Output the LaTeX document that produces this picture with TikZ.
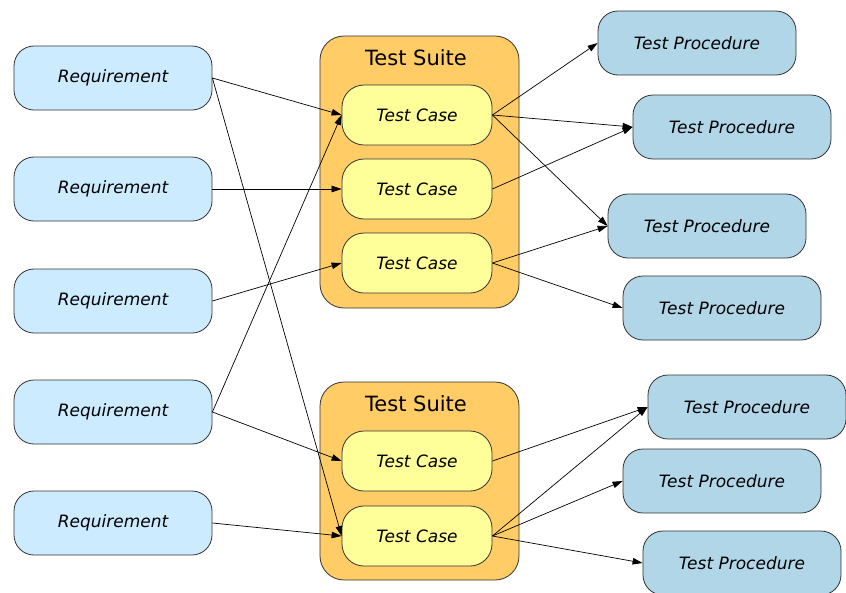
\documentclass[tikz,border=0pt]{standalone}
\usepackage{fontspec}
\setmainfont{DejaVu Sans}
\usetikzlibrary{arrows.meta}
\definecolor{reqfill}{HTML}{CCEBFF}
\definecolor{suitefill}{HTML}{FFCC66}
\definecolor{casefill}{HTML}{FFFF99}
\definecolor{procfill}{HTML}{B0D6E8}
\definecolor{edge}{HTML}{333333}
\begin{document}
\begin{tikzpicture}[x=1pt,y=-1pt,
  box/.style={draw=edge,line width=0.8pt,rounded corners=20pt,inner sep=0pt,
    font=\fontsize{17}{20}\selectfont\itshape},
  req/.style={box,fill=reqfill,minimum width=198pt,minimum height=64pt},
  proc/.style={box,fill=procfill,minimum width=198pt,minimum height=64pt},
  tcase/.style={box,fill=casefill,minimum width=150pt,minimum height=60pt,rounded corners=22pt},
  suite/.style={draw=edge,line width=0.8pt,fill=suitefill,rounded corners=24pt,inner sep=0pt},
  stitle/.style={font=\fontsize{21}{24}\selectfont,inner sep=0pt},
  link/.style={-{Triangle[length=10pt,width=6.5pt]},line width=0.7pt,black}]
\useasboundingbox (0,0) rectangle (846,592);
% suites
\node[suite,minimum width=199pt,minimum height=272pt] (S1) at (419.5,172) {};
\node[stitle] (T1) at (416,58) {Test Suite};
\node[suite,minimum width=199pt,minimum height=198pt] (S2) at (419.5,481) {};
\node[stitle] (T2) at (416,404) {Test Suite};
% requirements
\node[req] (R1) at (113,78) {Requirement};
\node[req] (R2) at (113,189) {Requirement};
\node[req] (R3) at (113,301) {Requirement};
\node[req] (R4) at (113,412) {Requirement};
\node[req] (R5) at (113,523) {Requirement};
% test cases
\node[tcase] (C1) at (417,115) {Test Case};
\node[tcase] (C2) at (417,189) {Test Case};
\node[tcase] (C3) at (417,263) {Test Case};
\node[tcase] (C4) at (417,461) {Test Case};
\node[tcase] (C5) at (417,536) {Test Case};
% procedures
\node[proc] (P1) at (697,43) {Test Procedure};
\node[proc] (P2) at (732,127) {Test Procedure};
\node[proc] (P3) at (707,226) {Test Procedure};
\node[proc] (P4) at (722,308) {Test Procedure};
\node[proc] (P5) at (747,407) {Test Procedure};
\node[proc] (P6) at (722,481) {Test Procedure};
\node[proc] (P7) at (742,563) {Test Procedure};
% links
\draw[link] (R1.east) -- (C1.west);
\draw[link] (R1.east) -- (C5.west);
\draw[link] (R2.east) -- (C2.west);
\draw[link] (R3.east) -- (C3.west);
\draw[link] (R4.east) -- (C1.west);
\draw[link] (R4.east) -- (C4.west);
\draw[link] (R5.east) -- (C5.west);
\draw[link] (C1.east) -- (P1.west);
\draw[link] (C1.east) -- (P2.west);
\draw[link] (C1.east) -- (P3.west);
\draw[link] (C2.east) -- (P2.west);
\draw[link] (C3.east) -- (P3.west);
\draw[link] (C3.east) -- (P4.west);
\draw[link] (C4.east) -- (P5.west);
\draw[link] (C5.east) -- (P5.west);
\draw[link] (C5.east) -- (P6.west);
\draw[link] (C5.east) -- (P7.west);
\end{tikzpicture}
\end{document}
